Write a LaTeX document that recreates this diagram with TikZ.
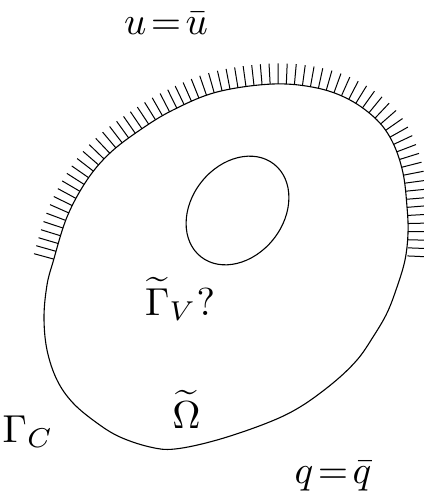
\documentclass[tikz,border=0pt]{standalone}
\usetikzlibrary{decorations.markings}
\begin{document}
\begin{tikzpicture}[x=1pt,y=1pt,
  outline/.style={line width=1.1pt},
  hatchline/.style={draw=none,
    postaction={decorate,decoration={markings,
      mark=between positions 3pt and 1 step 8.1pt with {\draw[line width=1pt] (0,0) -- (0,20.5pt);}}}},
  lbl/.style={inner sep=0pt,anchor=base,scale=3.9}]
\useasboundingbox (0,0) rectangle (423,-503);
% outer boundary
\draw[outline] plot[smooth cycle,tension=0.6] coordinates {
  (53,-262) (67,-217) (87,-180) (110,-153) (140,-130) (173,-110) (217,-92)
  (273,-84) (317,-88) (350,-100) (377,-120) (393,-143) (403,-173) (407,-207)
  (408,-233) (405,-260) (397,-287) (387,-313) (373,-337) (357,-360)
  (333,-383) (300,-407) (267,-423) (217,-440) (175,-449) (150,-447) (120,-437)
  (97,-423) (73,-403) (57,-380) (47,-350) (44,-317) (47,-285)};
% hatching along the upper part
\path[hatchline] plot[smooth,tension=0.6] coordinates {
  (53,-262) (67,-217) (87,-180) (110,-153) (140,-130) (173,-110) (217,-92)
  (273,-84) (317,-88) (350,-100) (377,-120) (393,-143) (403,-173) (407,-207)
  (408,-233) (407,-262)};
% inner hole
\draw[outline,rotate around={51.6:(237.5,-210.5)}] (237.5,-210.5) ellipse [x radius=59, y radius=46];
% labels
\node[lbl] (ubar) at (166,-35) {$u\!=\!\bar u$};
\node[lbl] (gv) at (180,-315) {$\widetilde\Gamma_V?$};
\node[lbl] (om) at (186.5,-428) {$\widetilde\Omega$};
\node[lbl] (gc) at (28,-442) {$\Gamma_C$};
\node[lbl] (qbar) at (333,-483) {$q\!=\!\bar q$};
\end{tikzpicture}
\end{document}
